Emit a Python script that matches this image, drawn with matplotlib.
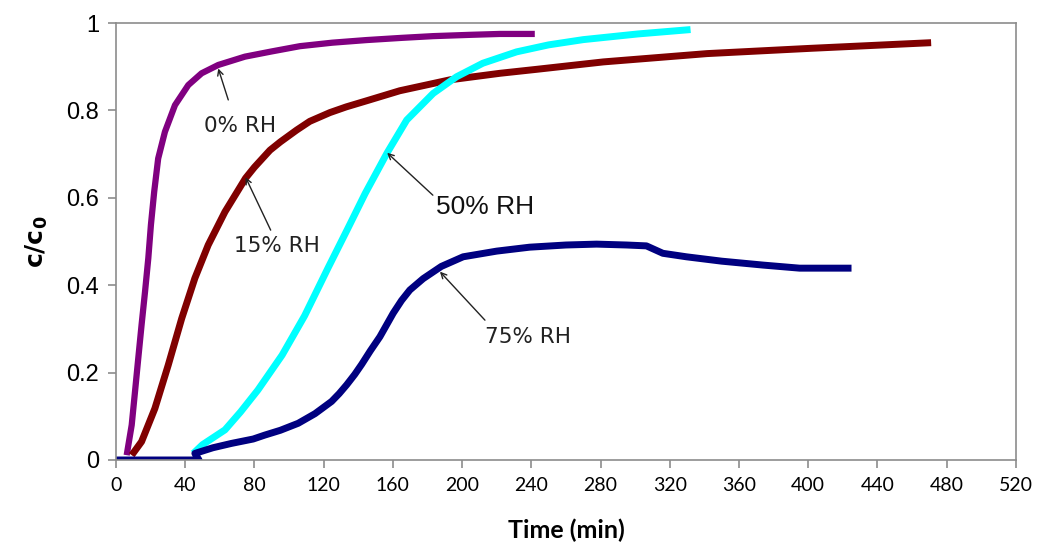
import matplotlib
matplotlib.use("Agg")
import matplotlib.pyplot as plt

# breakthrough curves, time in min
t_0rh = [6.2, 9.1, 11, 12.9, 14.8, 16.8, 18.7, 20.2, 22.1, 24.4, 28.3, 34.1, 41.8, 49.5, 59.1, 74.5,
         90, 106.3, 125, 144.8, 165, 183.3, 205, 221.8, 242]
c_0rh = [0.011, 0.08, 0.156, 0.233, 0.309, 0.385, 0.462, 0.538, 0.614, 0.69, 0.751, 0.812, 0.858, 0.885,
         0.904, 0.923, 0.935, 0.947, 0.955, 0.961, 0.966, 0.970, 0.973, 0.975, 0.975]

t_15rh = [9.1, 14.8, 22.5, 30.2, 38, 45.6, 53.3, 63, 74.9, 80, 89, 95, 104.4, 112, 123.6, 133, 144.8,
          164, 193, 222, 243, 281.6, 341.5, 401, 471]
c_15rh = [0.011, 0.042, 0.118, 0.217, 0.324, 0.416, 0.492, 0.568, 0.645, 0.67, 0.709, 0.728, 0.755, 0.775,
          0.795, 0.808, 0.822, 0.845, 0.87, 0.885, 0.894, 0.911, 0.93, 0.942, 0.955]

t_50rh = [44.7, 50, 63, 72, 82, 96, 109, 122.6, 134, 144, 156.7, 168, 183.3, 196.8, 212, 231.5, 250,
          270, 301.6, 332]
c_50rh = [0.015, 0.035, 0.069, 0.11, 0.16, 0.24, 0.33, 0.44, 0.53, 0.61, 0.703, 0.778, 0.839, 0.877,
          0.908, 0.934, 0.95, 0.962, 0.975, 0.985]

t_75rh = [0, 48, 45.6, 56, 66.8, 79.3, 86, 95, 105.3, 115, 124.6, 129, 133.3, 138, 142, 147, 152.5, 160.2,
          165, 169.8, 177.5, 188, 200.6, 220, 239, 260, 277.7, 295, 306.5, 316, 329.6, 350, 374, 395, 425]
c_75rh = [0, 0, 0.015, 0.028, 0.038, 0.048, 0.057, 0.068, 0.084, 0.106, 0.134, 0.152, 0.172, 0.196, 0.219,
          0.25, 0.282, 0.336, 0.365, 0.389, 0.415, 0.443, 0.465, 0.478, 0.487, 0.492, 0.494, 0.492, 0.49,
          0.473, 0.465, 0.455, 0.446, 0.439, 0.439]

# label text, arrow tip, arrow tail, text centre (data coords)
labels = ["0% RH", "15% RH", "50% RH", "75% RH"]
tips = [(59.1, 0.896), (74.9, 0.647), (156.7, 0.703), (187.2, 0.431)]
tails = [(64.9, 0.824), (89.4, 0.526), (183.1, 0.606), (213.2, 0.320)]
text_pos = [(71.6, 0.764), (92.8, 0.49), (213.2, 0.579), (238, 0.281)]

xticks = list(range(0, 521, 40))
yticks = [0, 0.2, 0.4, 0.6, 0.8, 1]
ytick_labels = ["0", "0.2", "0.4", "0.6", "0.8", "1"]

plt.rcParams['mathtext.fontset'] = 'dejavusans'

fig = plt.figure(figsize=(10.39, 5.48), dpi=100)
ax = fig.add_axes([0.1116, 0.1606, 0.8662, 0.7974])

lw = 5
ax.plot(t_0rh, c_0rh, color="#800080", lw=lw - 0.5, solid_capstyle='butt', solid_joinstyle='round')
ax.plot(t_15rh, c_15rh, color="#800000", lw=lw, solid_capstyle='butt', solid_joinstyle='round')
ax.plot(t_50rh, c_50rh, color="#00FFFF", lw=lw, solid_capstyle='butt', solid_joinstyle='round')
ax.plot(t_75rh, c_75rh, color="#000080", lw=lw, solid_capstyle='butt', solid_joinstyle='round')

for i, lab in enumerate(labels):
    ax.annotate("", xy=tips[i], xytext=tails[i],
                arrowprops=dict(arrowstyle="->", color="#222222", lw=1.0, shrinkA=0, shrinkB=0))
    if lab == "50% RH":
        ax.text(*text_pos[i], lab, ha="center", va="center", fontsize=19,
                family="Liberation Sans", color="#111111")
    else:
        ax.text(*text_pos[i], lab, ha="center", va="center", fontsize=15.5,
                family="DejaVu Sans", color="#222222")

ax.set_xlim(0, 520)
ax.set_ylim(0, 1)
ax.set_xticks(xticks)
ax.set_xticklabels([str(x) for x in xticks], family="Lato", fontsize=14)
ax.set_yticks(yticks)
ax.set_yticklabels(ytick_labels, family="Liberation Sans", fontsize=17)

for s in ax.spines.values():
    s.set_color("#8c8c8c")
    s.set_linewidth(1.2)
ax.tick_params(axis="both", direction="out", length=6, color="#8c8c8c", width=1.2, pad=6)

ax.set_xlabel("Time (min)", family="Lato", fontweight="bold", fontsize=18, labelpad=18)
ax.set_ylabel(r"$\mathbf{c/c_0}$", fontsize=18, labelpad=12)

fig.savefig("out.png", dpi=100)
